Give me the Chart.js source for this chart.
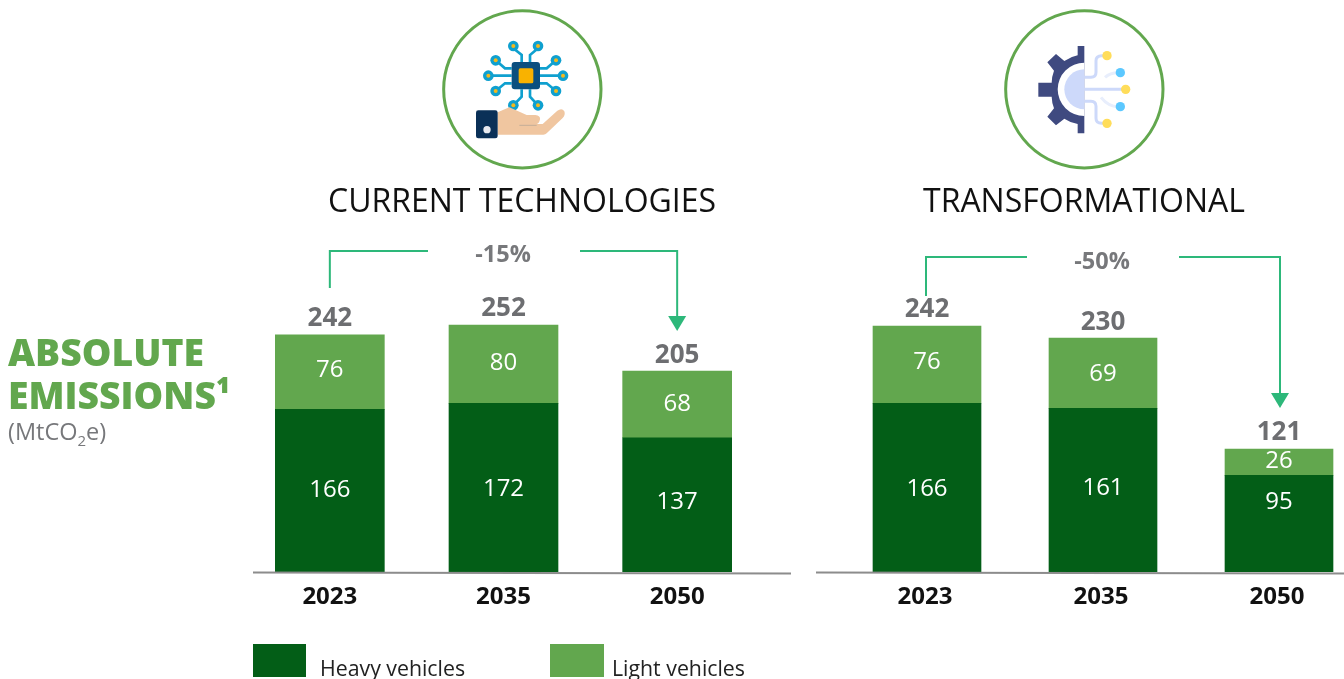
<!DOCTYPE html>
<html><head><meta charset="utf-8">
<script src="https://cdn.jsdelivr.net/npm/chart.js@4"></script>
<style>
html,body{margin:0;padding:0;background:#fff;width:1344px;height:679px;overflow:hidden;font-family:"Open Sans",sans-serif}
canvas{position:absolute;left:0;top:0}
.t{position:absolute;white-space:nowrap;line-height:1}
svg{position:absolute}
.box{position:absolute;width:53px;height:33px;top:644px}
</style></head><body>
<canvas id="c1" width="1344" height="679"></canvas>
<canvas id="c2" width="1400" height="679"></canvas>

<svg style="left:430px;top:0" width="190" height="175" viewBox="0 0 570 525">
 <circle cx="277" cy="268" r="236" fill="#fff" stroke="#62A74E" stroke-width="9"/>
 <g fill="none" stroke="#0FA0CF" stroke-width="8">
  <path d="M275 186V165L250 145M300 186V165L324 145M245 205H225L197 181M330 205H350L378 181M245 227H175M330 227H399M245 250H225L197 273M330 250H350L378 273M275 268V290L250 316M300 268V290L324 316"/>
 </g>
 <g fill="#0FA0CF"><circle cx="250" cy="138" r="16"/><circle cx="324" cy="138" r="16"/><circle cx="197" cy="181" r="16"/><circle cx="378" cy="181" r="16"/><circle cx="175" cy="227" r="16"/><circle cx="399" cy="227" r="16"/><circle cx="197" cy="273" r="16"/><circle cx="378" cy="273" r="16"/><circle cx="250" cy="316" r="16"/><circle cx="324" cy="316" r="16"/></g>
 <g fill="#F4B81C"><circle cx="250" cy="138" r="6"/><circle cx="324" cy="138" r="6"/><circle cx="197" cy="181" r="6"/><circle cx="378" cy="181" r="6"/><circle cx="175" cy="227" r="6"/><circle cx="399" cy="227" r="6"/><circle cx="197" cy="273" r="6"/><circle cx="378" cy="273" r="6"/><circle cx="250" cy="316" r="6"/><circle cx="324" cy="316" r="6"/></g>
 <rect x="245" y="186" width="85" height="82" rx="9" fill="#0B4F7F"/>
 <rect x="266" y="205" width="44" height="45" rx="5" fill="#F9B200"/>
 <path d="M203 337L238 322L290 345H316Q332 347 330 358Q328 370 320 372H338L382 332Q396 322 403 334Q407 345 398 354L350 400Q346 404 340 404H203Z" fill="#F0C6A0"/>
 <path d="M268 376H320" stroke="#C5AE98" stroke-width="3"/>
 <rect x="138" y="331" width="65" height="84" rx="7" fill="#0A3057"/>
 <circle cx="171" cy="389" r="11" fill="#E8EAF0"/>
</svg>

<svg style="left:995px;top:0" width="190" height="175" viewBox="0 0 570 525">
 <circle cx="268" cy="268" r="236" fill="#fff" stroke="#62A74E" stroke-width="9"/>
 <g fill="#3F4A80">
  <path d="M268 138V400H248V372A105 105 0 0 1 208 356L183 376L157 350L177 325A105 105 0 0 1 170 290H130V248H170A105 105 0 0 1 177 212L157 187L183 162L208 183A105 105 0 0 1 248 166V138Z"/>
 </g>
 <path d="M268 188A80 80 0 0 0 268 348Z" fill="#fff"/>
 <path d="M268 208A60 60 0 0 0 268 328Z" fill="#CDD9FA"/>
 <g fill="none" stroke="#CDD9FA" stroke-width="9">
  <path d="M268 268H385M268 232H288Q303 232 303 217V182Q303 167 320 167H335M268 304H288Q303 304 303 319V355Q303 370 320 370H335"/>
 </g>
 <g fill="none" stroke="#E8EEFC" stroke-width="9"><path d="M330 232Q345 218 370 218M318 292Q340 320 370 320"/></g>
 <g fill="#FFDD5A"><circle cx="336" cy="167" r="14"/><circle cx="392" cy="268" r="14"/><circle cx="336" cy="370" r="14"/></g>
 <g fill="#5CC8FF"><circle cx="376" cy="218" r="14"/><circle cx="376" cy="320" r="14"/></g>
</svg>

<div class="t" style="left:328px;top:184px;font-size:32px;color:#111">CURRENT TECHNOLOGIES</div>
<div class="t" style="left:923px;top:184px;font-size:32px;color:#111">TRANSFORMATIONAL</div>
<div class="t" style="left:8px;top:333px;font-size:37.3px;font-weight:800;color:#62A74E">ABSOLUTE</div>
<div class="t" style="left:8px;top:376px;font-size:37.3px;font-weight:800;color:#62A74E">EMISSIONS¹</div>
<div class="t" style="left:8px;top:420px;font-size:23.5px;color:#77787B">(MtCO<sub style="font-size:15px;line-height:0">2</sub>e)</div>

<div class="box" style="left:253px;background:#035E17"></div>
<div class="t" style="left:320px;top:657px;font-size:21.3px;color:#222">Heavy vehicles</div>
<div class="box" style="left:550px;background:#62A74E;width:54px"></div>
<div class="t" style="left:612px;top:657px;font-size:21.3px;color:#222">Light vehicles</div>

<script>
const categories = ["2023", "2035", "2050"];
const heavyCurrent = [166, 172, 137];
const lightCurrent = [76, 80, 68];
const totalCurrent = [242, 252, 205];
const heavyTransform = [166, 161, 95];
const lightTransform = [76, 69, 26];
const totalTransform = [242, 230, 121];
const changeCurrent = "-15%";
const changeTransform = "-50%";

const DARK = "#035E17", LIGHT = "#62A74E", ARROW = "#2DB87A", GREY = "#6D6E71";
const FF = '"Open Sans", sans-serif';

function makePlugin(totals, change, br) {
  return {
    id: "marks",
    afterDraw(chart) {
      const c = chart.ctx, x = chart.scales.x;
      const m0 = chart.getDatasetMeta(0), m1 = chart.getDatasetMeta(1);
      c.save();
      // segment labels
      c.textAlign = "center"; c.textBaseline = "middle";
      c.font = "24px " + FF; c.fillStyle = "#fff";
      [m0, m1].forEach((m, d) => m.data.forEach((b, i) => {
        const v = chart.data.datasets[d].data[i];
        c.fillText(String(v), b.x, (b.y + b.base) / 2 - 3 + br.nudge[d][i]);
      }));
      // totals
      c.font = "bold 26px " + FF; c.fillStyle = GREY;
      m1.data.forEach((b, i) => c.fillText(String(totals[i]), b.x, b.y - 16));
      // baseline
      c.strokeStyle = "#8C8C8C"; c.lineWidth = 2;
      c.beginPath(); c.moveTo(br.axis[0], chart.scales.y.bottom + 0.5);
      c.lineTo(br.axis[1], chart.scales.y.bottom + 1.5); c.stroke();
      // bracket
      const x0 = x.getPixelForValue(0), x2 = x.getPixelForValue(2);
      c.strokeStyle = ARROW; c.fillStyle = ARROW; c.lineWidth = 2;
      c.beginPath();
      c.moveTo(x0 + br.dx0, br.start); c.lineTo(x0 + br.dx0, br.level); c.lineTo(br.gap[0], br.level);
      c.moveTo(br.gap[1], br.level); c.lineTo(x2 + br.dx2, br.level); c.lineTo(x2 + br.dx2, br.end - 14);
      c.stroke();
      c.beginPath();
      c.moveTo(x2 + br.dx2 - 9, br.end - 15); c.lineTo(x2 + br.dx2 + 9, br.end - 15); c.lineTo(x2 + br.dx2, br.end);
      c.closePath(); c.fill();
      c.font = "bold 23.5px " + FF; c.fillStyle = "#77787B";
      c.fillText(change, br.tx, br.ty);
      c.restore();
    }
  };
}

function build(id, heavy, light, totals, change, pad, thick, labelOffset, br) {
  new Chart(document.getElementById(id), {
    type: "bar",
    data: { labels: categories, datasets: [
      { label: "Heavy vehicles", data: heavy, backgroundColor: DARK, barThickness: thick },
      { label: "Light vehicles", data: light, backgroundColor: LIGHT, barThickness: thick }
    ]},
    options: {
      responsive: false, animation: false,
      devicePixelRatio: 1,
      layout: { padding: pad },
      plugins: { legend: { display: false }, tooltip: { enabled: false } },
      scales: {
        x: { stacked: true, grid: { display: false }, border: { display: false },
             afterFit(s) { s.height = 107; },
             ticks: { color: "#111", padding: 3, labelOffset, maxRotation: 0, font: { family: FF, size: 24, weight: "bold" } } },
        y: { stacked: true, display: false, min: 0, max: 300 }
      }
    },
    plugins: [makePlugin(totals, change, br)]
  });
}

build("c1", heavyCurrent, lightCurrent, totalCurrent, changeCurrent,
  { left: 243, right: 580, top: 278, bottom: 0 }, 109, 0,
  { axis: [253, 791], start: 288, level: 251, gap: [428, 580], end: 331, dx0: 0, dx2: 0, tx: 503, ty: 255,
    nudge: [[2, 4, 0], [1, 2, 3]] });
build("c2", heavyTransform, lightTransform, totalTransform, changeTransform,
  { left: 839, right: 33, top: 267, bottom: 0 }, 108, -2,
  { axis: [816, 1344], start: 296, level: 257, gap: [1027, 1179], end: 408, dx0: -1, dx2: 1, tx: 1102, ty: 262,
    nudge: [[5, 1, -19], [1, 4, 2]] });
</script>
</body></html>
